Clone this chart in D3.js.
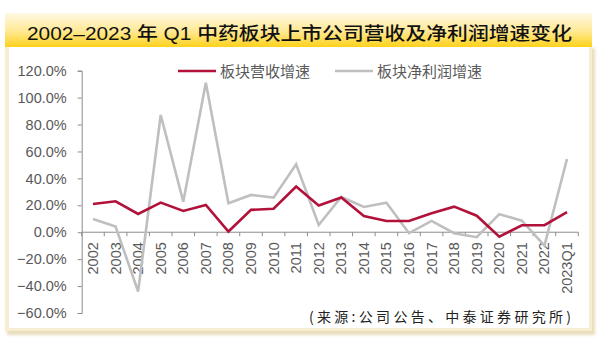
<!DOCTYPE html>
<html>
<head>
<meta charset="utf-8">
<script src="https://cdn.jsdelivr.net/npm/d3@7/dist/d3.min.js"></script>
<style>
  html, body { margin: 0; padding: 0; background: #ffffff; }
  svg { display: block; }
</style>
</head>
<body>
<svg id="chart" width="600" height="338"></svg>
<script>
// Categories (years, last one is 2023 Q1)
const categories = ["2002","2003","2004","2005","2006","2007","2008","2009","2010","2011","2012",
  "2013","2014","2015","2016","2017","2018","2019","2020","2021","2022","2023Q1"];

// Sector revenue growth (%)
const revenueGrowth = [21.0, 23.0, 13.6, 22.0, 15.8, 20.3, 0.5, 16.6, 17.5, 33.9, 19.8,
  25.8, 12.1, 8.4, 8.4, 14.1, 19.0, 12.3, -3.3, 5.2, 5.2, 14.9];

// Sector net profit growth (%)
const profitGrowth = [9.9, 4.2, -44.0, 87.1, 22.7, 111.1, 21.5, 27.7, 25.7, 50.5, 5.4,
  26.2, 18.8, 22.0, -0.7, 8.4, -0.7, -3.7, 13.4, 8.6, -10.0, 54.4];

// Y-axis tick values (%)
const yTicks = [-60, -40, -20, 0, 20, 40, 60, 80, 100, 120];

const seriesNames = ["板块营收增速", "板块净利润增速"];
const titleText = "2002–2023 年 Q1 中药板块上市公司营收及净利润增速变化";
const sourceText = "(来源:公司公告、中泰证券研究所)";

const svg = d3.select("#chart");
const defs = svg.append("defs");

// title bar gradient
const grad = defs.append("linearGradient").attr("id", "titleGrad")
  .attr("x1", 0).attr("y1", 0).attr("x2", 0).attr("y2", 1);
grad.append("stop").attr("offset", "0%").attr("stop-color", "#FFF9E6");
grad.append("stop").attr("offset", "55%").attr("stop-color", "#FFE890");
grad.append("stop").attr("offset", "100%").attr("stop-color", "#FFD21A");

// soft panel shadow
const sh = defs.append("filter").attr("id", "panelShadow")
  .attr("x", "-5%").attr("y", "-5%").attr("width", "110%").attr("height", "110%");
sh.append("feGaussianBlur").attr("stdDeviation", 1.6);

// panel frame
svg.append("rect").attr("x", 7).attr("y", 48).attr("width", 588).attr("height", 287)
  .attr("fill", "#E9DDBA").attr("filter", "url(#panelShadow)");
svg.append("rect").attr("x", 5).attr("y", 46).attr("width", 587).attr("height", 285)
  .attr("fill", "#F6EDD2");
svg.append("rect").attr("x", 9).attr("y", 46).attr("width", 580).attr("height", 282)
  .attr("fill", "#ffffff");

// title bar
svg.append("rect").attr("x", 5).attr("y", 13).attr("width", 587).attr("height", 34)
  .attr("fill", "url(#titleGrad)");
svg.append("text")
  .attr("x", 27).attr("y", 39.5)
  .attr("textLength", 545).attr("lengthAdjust", "spacingAndGlyphs")
  .attr("font-family", "'Liberation Sans', 'Noto Sans CJK SC', sans-serif")
  .attr("font-size", 18).attr("font-weight", 500).attr("fill", "#111111")
  .text(titleText);

// scales
const x = d3.scaleBand().domain(categories).range([81.7, 578.3]).padding(0);
const y = d3.scaleLinear().domain([-60, 120]).range([313, 70.7]);
const cx = c => x(c) + x.bandwidth() / 2;

const axisColor = "#8C8C8C";
const labelColor = "#595959";
const numFont = "'Liberation Sans', Arial, sans-serif";

// y axis
const yAxis = svg.append("g").attr("transform", "translate(81.7,0)")
  .call(d3.axisLeft(y).tickValues(yTicks).tickSize(4).tickPadding(11)
    .tickFormat(d => d3.format(".1f")(d) + "%"));
yAxis.selectAll("path, line").attr("stroke", axisColor).attr("stroke-width", 1);
yAxis.selectAll("text").attr("font-family", numFont).attr("font-size", 14.5)
  .attr("fill", labelColor);

// x axis along the zero line
const xAxis = svg.append("g").attr("transform", `translate(0,${y(0)})`);
xAxis.append("line").attr("x1", x.range()[0]).attr("x2", x.range()[1])
  .attr("stroke", axisColor).attr("stroke-width", 1);
const boundaries = categories.map(c => x(c)).concat([x.range()[1]]);
xAxis.selectAll(".bt").data(boundaries).join("line").attr("class", "bt")
  .attr("x1", d => d).attr("x2", d => d).attr("y1", 0).attr("y2", 4)
  .attr("stroke", axisColor).attr("stroke-width", 1);
xAxis.selectAll(".xl").data(categories).join("text").attr("class", "xl")
  .attr("transform", d => `translate(${cx(d) + 5},10) rotate(-90)`)
  .attr("text-anchor", "end")
  .attr("font-family", numFont).attr("font-size", 14.5).attr("fill", labelColor)
  .text(d => d);

// lines
const line = d3.line().x((d, i) => cx(categories[i])).y(d => y(d));
svg.append("path").datum(profitGrowth).attr("d", line)
  .attr("fill", "none").attr("stroke", "#BFBFBF").attr("stroke-width", 2.6)
  .attr("stroke-linejoin", "miter");
svg.append("path").datum(revenueGrowth).attr("d", line)
  .attr("fill", "none").attr("stroke", "#B2123A").attr("stroke-width", 2.6)
  .attr("stroke-linejoin", "miter");

// legend
const legend = [
  { name: seriesNames[0], color: "#B2123A", x0: 178, x1: 216, tx: 220 },
  { name: seriesNames[1], color: "#BFBFBF", x0: 335, x1: 373, tx: 377 }
];
legend.forEach(l => {
  svg.append("line").attr("x1", l.x0).attr("x2", l.x1).attr("y1", 71).attr("y2", 71)
    .attr("stroke", l.color).attr("stroke-width", 2.6);
  svg.append("text").attr("x", l.tx).attr("y", 76.5)
    .attr("font-family", "'Noto Sans CJK SC', sans-serif").attr("font-size", 15)
    .attr("fill", "#595959").text(l.name);
});

// source note
svg.append("text").attr("x", 309).attr("y", 322)
  .attr("textLength", 262).attr("lengthAdjust", "spacing")
  .attr("font-family", "'Noto Sans CJK SC', sans-serif").attr("font-size", 14)
  .attr("fill", "#222222").text(sourceText);
</script>
</body>
</html>
